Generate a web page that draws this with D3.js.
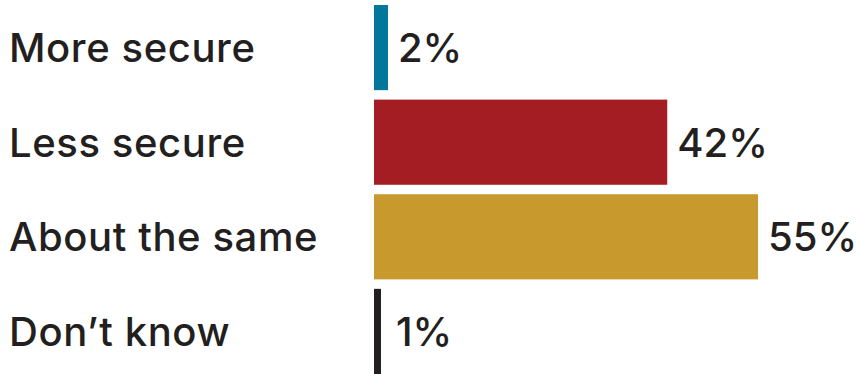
<!DOCTYPE html>
<html>
<head>
<meta charset="utf-8">
<script src="https://cdn.jsdelivr.net/npm/d3@7"></script>
<style>
  html, body { margin: 0; padding: 0; background: #ffffff; }
  svg { display: block; }
  text { font-family: Inter, Lato, sans-serif; fill: #231f20; font-weight: 500; }
</style>
</head>
<body>
<svg id="chart" width="857" height="374"></svg>
<script>
// Survey answers and their shares (%)
const categories = ["More secure", "Less secure", "About the same", "Don\u2019t know"];
const values = [2, 42, 55, 1];
const colors = ["#00779b", "#a41d23", "#c8992c", "#231f20"];
const valueLabels = values.map(v => v + "%");

const barLeft = 374;

const svg = d3.select("#chart");

const x = d3.scaleLinear().domain([0, 55]).range([barLeft, barLeft + 384]);
const y = d3.scaleBand().domain(categories).range([5, 374]).paddingInner(0.1).paddingOuter(0);

const rows = categories.map((c, i) => ({ c, v: values[i], color: colors[i], label: valueLabels[i] }));

svg.selectAll("rect.bar")
  .data(rows)
  .join("rect")
  .attr("class", "bar")
  .attr("x", x(0))
  .attr("y", d => y(d.c))
  .attr("width", d => x(d.v) - x(0))
  .attr("height", y.bandwidth())
  .attr("fill", d => d.color);

const fs = 40;

svg.selectAll("text.cat")
  .data(rows)
  .join("text")
  .attr("class", "cat")
  .attr("x", 9)
  .attr("y", d => y(d.c) + y.bandwidth() / 2)
  .attr("dy", "0.36em")
  .style("font-size", fs + "px")
  .style("letter-spacing", "0.6px")
  .text(d => d.c);

// value labels sit just past the bar end, with a little more room beside the thin bars
svg.selectAll("text.val")
  .data(rows)
  .join("text")
  .attr("class", "val")
  .attr("x", d => Math.max(x(d.v) + 10, x(0) + 22))
  .attr("y", d => y(d.c) + y.bandwidth() / 2)
  .attr("dy", "0.36em")
  .style("font-size", fs + "px")
  .text(d => d.label);
</script>
</body>
</html>
